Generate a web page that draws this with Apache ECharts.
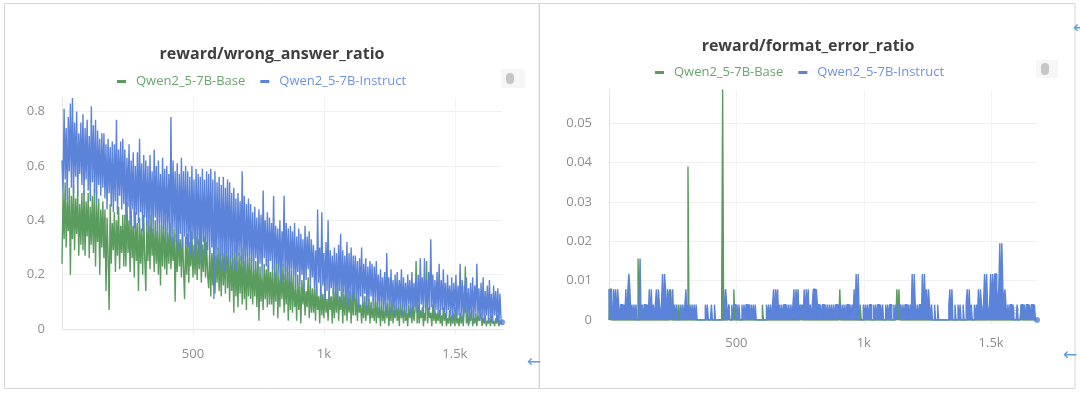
<!DOCTYPE html>
<html><head><meta charset="utf-8">
<script src="https://cdn.jsdelivr.net/npm/echarts@6/dist/echarts.min.js"></script>
<style>html,body{margin:0;padding:0;background:#fff}#c{width:1080px;height:395px}</style>
</head><body><div id="c"></div>
<script>
// ---------- data ----------
const seriesNames = ['Qwen2_5-7B-Base', 'Qwen2_5-7B-Instruct'];
const xTickLabels = {500: '500', 1000: '1k', 1500: '1.5k'};
const STEP_L = 4;    // training steps between samples (left chart)
const STEP_R = 4;    // training steps between samples (right chart)
const UNIT = 1 / 256; // right chart values are counts out of 256

// reward/wrong_answer_ratio (one row = 80 steps)
const wrongBase = [
0.24,0.5,0.33,0.54,0.3,0.47,0.36,0.52,0.2,0.49,0.33,0.53,0.29,0.48,0.35,0.51,0.27,0.46,0.31,0.5,
0.29,0.51,0.27,0.47,0.34,0.5,0.26,0.45,0.31,0.49,0.28,0.52,0.23,0.46,0.32,0.48,0.2,0.44,0.3,0.47,
0.26,0.44,0.14,0.41,0.27,0.07,0.46,0.24,0.39,0.29,0.43,0.21,0.4,0.27,0.45,0.22,0.38,0.28,0.42,0.23,
0.42,0.23,0.47,0.28,0.4,0.21,0.44,0.26,0.38,0.19,0.43,0.25,0.39,0.14,0.41,0.24,0.37,0.2,0.42,0.26,
0.14,0.4,0.25,0.38,0.22,0.42,0.27,0.37,0.21,0.4,0.24,0.36,0.2,0.39,0.16,0.38,0.23,0.41,0.22,0.37,
0.2,0.36,0.24,0.39,0.22,0.34,0.25,0.37,0.1,0.35,0.21,0.38,0.23,0.33,0.19,0.36,0.22,0.11,0.34,0.2,
0.35,0.17,0.32,0.23,0.36,0.19,0.31,0.2,0.34,0.18,0.33,0.22,0.35,0.17,0.31,0.21,0.34,0.19,0.32,0.2,
0.15,0.3,0.12,0.28,0.16,0.32,0.13,0.27,0.17,0.3,0.14,0.29,0.12,0.31,0.16,0.28,0.13,0.37,0.15,0.27,
0.1,0.29,0.14,0.26,0.06,0.31,0.12,0.25,0.08,0.28,0.13,0.27,0.09,0.3,0.11,0.25,0.07,0.28,0.12,0.26,
0.11,0.26,0.09,0.22,0.12,0.25,0.08,0.27,0.03,0.23,0.1,0.2,0.07,0.24,0.11,0.22,0.08,0.26,0.09,0.21,
0.09,0.23,0.05,0.21,0.1,0.26,0.04,0.2,0.08,0.22,0.11,0.24,0.06,0.2,0.09,0.23,0.03,0.21,0.07,0.22,
0.06,0.19,0.08,0.15,0.03,0.2,0.07,0.16,0.02,0.18,0.09,0.17,0.05,0.14,0.08,0.19,0.04,0.16,0.06,0.15,
0.06,0.15,0.03,0.17,0.07,0.12,0.02,0.16,0.05,0.13,0.04,0.15,0.06,0.11,0.03,0.14,0.07,0.12,0.02,0.15,
0.04,0.14,0.06,0.17,0.03,0.12,0.07,0.15,0.02,0.13,0.05,0.16,0.03,0.12,0.06,0.14,0.02,0.13,0.05,0.22,
0.05,0.11,0.03,0.12,0.06,0.09,0.02,0.1,0.04,0.12,0.03,0.09,0.05,0.11,0.02,0.1,0.04,0.08,0.03,0.11,
0.02,0.1,0.04,0.08,0.01,0.11,0.03,0.07,0.02,0.09,0.04,0.1,0.01,0.08,0.03,0.11,0.02,0.07,0.04,0.09,
0.03,0.08,0.01,0.11,0.04,0.07,0.02,0.1,0.03,0.06,0.01,0.09,0.04,0.08,0.02,0.1,0.03,0.07,0.25,0.02,
0.09,0.02,0.07,0.04,0.08,0.01,0.06,0.03,0.25,0.02,0.08,0.04,0.06,0.01,0.09,0.03,0.07,0.02,0.06,0.03,
0.07,0.02,0.05,0.01,0.08,0.03,0.06,0.01,0.04,0.02,0.07,0.01,0.05,0.02,0.06,0.01,0.08,0.02,0.04,0.01,
0.06,0.02,0.05,0.01,0.07,0.23,0.02,0.05,0.01,0.06,0.03,0.07,0.01,0.04,0.02,0.06,0.01,0.05,0.03,0.04,
0.06,0.01,0.04,0.02,0.05,0.01,0.03,0.02,0.04,0.01,0.05,0.02,0.03,0.01,0.04,0.02,0.05,0.01,0.03,0.02,
0.02];
const wrongInstruct = [
0.62,0.5,0.81,0.55,0.74,0.47,0.78,0.58,0.83,0.52,0.85,0.5,0.76,0.56,0.8,0.49,0.72,0.57,0.76,0.53,
0.79,0.49,0.74,0.55,0.77,0.51,0.71,0.47,0.82,0.54,0.75,0.5,0.77,0.46,0.73,0.53,0.7,0.49,0.72,0.52,
0.72,0.48,0.68,0.44,0.7,0.5,0.67,0.45,0.69,0.43,0.68,0.47,0.77,0.42,0.66,0.49,0.69,0.44,0.7,0.46,
0.66,0.4,0.63,0.45,0.68,0.38,0.62,0.44,0.65,0.37,0.6,0.42,0.65,0.39,0.7,0.43,0.61,0.36,0.64,0.41,
0.62,0.38,0.6,0.35,0.64,0.4,0.58,0.36,0.66,0.41,0.6,0.34,0.62,0.39,0.57,0.35,0.63,0.37,0.59,0.33,
0.6,0.36,0.57,0.33,0.78,0.31,0.62,0.37,0.58,0.32,0.61,0.29,0.57,0.35,0.63,0.3,0.58,0.34,0.6,0.31,
0.58,0.3,0.56,0.27,0.6,0.33,0.55,0.26,0.59,0.31,0.57,0.28,0.56,0.24,0.59,0.32,0.55,0.27,0.58,0.29,
0.57,0.28,0.59,0.3,0.55,0.11,0.58,0.25,0.54,0.29,0.56,0.22,0.53,0.27,0.56,0.21,0.52,0.28,0.55,0.24,
0.54,0.26,0.5,0.22,0.52,0.28,0.48,0.21,0.5,0.27,0.47,0.25,0.58,0.24,0.49,0.2,0.46,0.27,0.48,0.23,
0.46,0.25,0.43,0.21,0.45,0.26,0.41,0.22,0.44,0.24,0.42,0.2,0.51,0.26,0.4,0.23,0.43,0.21,0.41,0.25,
0.39,0.22,0.49,0.19,0.38,0.24,0.37,0.2,0.4,0.17,0.36,0.23,0.49,0.18,0.39,0.21,0.37,0.16,0.38,0.22,
0.36,0.19,0.39,0.15,0.34,0.21,0.37,0.16,0.35,0.2,0.33,0.14,0.38,0.18,0.34,0.22,0.36,0.15,0.33,0.19,
0.31,0.15,0.29,0.13,0.44,0.17,0.3,0.12,0.43,0.16,0.28,0.11,0.32,0.14,0.4,0.1,0.29,0.15,0.27,0.13,
0.3,0.12,0.28,0.1,0.31,0.14,0.35,0.09,0.29,0.13,0.27,0.11,0.32,0.08,0.28,0.12,0.3,0.1,0.27,0.13,
0.27,0.11,0.25,0.08,0.26,0.12,0.3,0.09,0.24,0.13,0.26,0.07,0.23,0.1,0.25,0.12,0.24,0.08,0.23,0.11,
0.25,0.09,0.2,0.06,0.22,0.1,0.19,0.07,0.21,0.05,0.28,0.1,0.19,0.06,0.22,0.09,0.18,0.05,0.2,0.08,
0.21,0.07,0.18,0.09,0.22,0.05,0.19,0.08,0.17,0.06,0.2,0.09,0.18,0.05,0.21,0.07,0.17,0.08,0.19,0.06,
0.2,0.06,0.26,0.09,0.19,0.05,0.26,0.08,0.18,0.06,0.21,0.07,0.33,0.08,0.2,0.05,0.18,0.07,0.21,0.06,
0.24,0.05,0.18,0.07,0.22,0.06,0.17,0.04,0.2,0.07,0.16,0.05,0.19,0.03,0.17,0.06,0.2,0.04,0.16,0.05,
0.24,0.05,0.18,0.03,0.16,0.06,0.19,0.04,0.15,0.02,0.17,0.05,0.19,0.03,0.16,0.06,0.24,0.04,0.15,0.03,
0.17,0.04,0.19,0.02,0.14,0.05,0.16,0.03,0.18,0.04,0.13,0.02,0.16,0.05,0.14,0.03,0.15,0.02,0.13,0.04,
0.025];

// reward/format_error_ratio (counts out of 256, one row = 80 steps)
const formatBase = [
0,2,2,0,0,0,0,0,0,0,0,0,0,0,0,0,0,0,0,0,
0,0,0,0,0,0,0,0,0,4,0,0,0,0,0,0,0,0,0,0,
0,0,0,0,0,0,0,0,0,0,0,0,0,0,0,0,0,0,0,0,
0,2,0,0,0,0,0,0,0,1,0,0,0,0,0,0,0,0,10,0,
0,0,0,0,0,0,0,0,0,0,0,0,0,0,0,0,0,0,0,0,
0,0,0,0,0,0,0,0,0,0,0,0,15,0,0,0,0,0,1,0,
0,0,0,2,0,0,0,0,0,0,0,0,0,0,0,0,0,0,1,0,
0,0,0,0,0,0,0,0,0,0,0,1,0,0,0,0,0,0,0,0,
0,0,0,0,0,0,0,0,0,0,0,0,0,0,0,0,0,0,0,0,
0,0,0,0,0,0,0,0,0,1,0,0,0,0,0,0,0,0,0,0,
0,0,0,0,0,0,0,0,0,0,0,0,0,0,0,0,0,0,0,0,
0,0,0,0,0,0,0,2,0,0,0,0,0,0,0,0,0,0,0,0,
0,0,0,0,0,0,0,1,0,0,0,0,0,0,0,0,0,0,0,0,
0,0,0,0,0,0,0,0,0,0,0,0,0,0,0,0,0,0,0,0,
0,0,0,2,0,2,0,0,0,0,0,0,0,0,0,0,0,0,0,0,
0,0,0,0,0,0,0,0,0,0,0,0,0,0,0,0,0,0,0,0,
0,0,0,0,0,0,0,0,0,0,0,0,0,0,0,0,0,0,0,0,
0,0,0,0,0,0,0,0,0,0,0,0,0,0,0,0,0,0,0,0,
0,0,0,0,0,0,0,0,0,0,0,0,0,0,0,0,0,0,0,0,
0,0,0,0,0,0,0,0,0,0,0,0,0,0,0,0,0,0,0,0,
0,0,0,0,0,1,0,0,0,0,0,0,1,0,0,0,0,0,0,0,
0];
const formatInstruct = [
2,0,2,1,0,2,1,2,0,2,1,0,1,1,0,1,0,2,0,2,
3,2,0,1,0,1,0,1,0,0,1,4,0,1,0,1,1,0,1,0,
2,0,2,0,1,0,1,2,0,2,1,0,1,3,0,3,2,0,2,1,
2,0,1,2,0,1,0,1,0,0,0,1,0,1,0,1,2,0,1,0,
1,0,1,0,1,0,1,0,0,0,0,0,0,0,0,1,0,1,0,0,
0,1,0,0,1,0,0,0,0,0,0,0,0,2,0,2,1,0,1,0,
0,1,0,1,1,0,1,0,1,0,0,1,0,1,0,1,1,0,1,0,
1,0,1,0,1,0,0,0,0,0,0,0,0,0,0,1,0,1,0,1,
0,1,2,0,2,1,2,0,1,0,1,0,1,1,0,1,0,1,0,1,
0,1,2,0,2,1,2,0,1,0,1,0,2,0,2,1,2,0,1,0,
1,2,2,0,2,1,1,0,1,0,1,1,0,1,0,1,0,1,0,1,
0,1,0,1,1,0,1,0,1,0,1,0,1,0,1,1,0,1,0,1,
0,2,0,3,0,3,0,0,0,0,1,0,1,0,1,0,1,1,0,0,
1,0,1,0,1,1,0,1,0,1,0,0,1,0,1,0,1,1,0,0,
1,0,1,0,1,1,0,1,0,1,0,1,1,0,1,0,1,0,3,0,
3,1,0,1,0,1,1,0,3,0,3,1,2,0,2,1,0,1,0,0,
1,0,0,1,0,0,0,0,0,0,0,0,0,0,1,2,0,2,0,0,
1,0,0,1,0,1,0,0,1,0,0,1,2,0,2,0,1,0,0,1,
0,1,0,2,0,2,1,0,1,3,1,3,1,0,1,3,1,3,1,3,
3,2,1,2,5,1,5,2,1,2,1,0,1,0,1,1,0,1,0,0,
0,1,0,0,0,1,1,0,1,0,1,1,0,1,0,1,1,0,1,0,
0];

// ---------- chart ----------
const GREEN = '#5a9b5e', BLUE = '#5b83da';
const GREEN_TXT = '#6aa66d', BLUE_TXT = '#6f92e2';
const FONT = 'Open Sans';
const MAX_STEP = 1680;

const toPts = (arr, step, k) => arr.map((v, i) => [i * step, v * k]);
const lBase = toPts(wrongBase, STEP_L, 1), lInst = toPts(wrongInstruct, STEP_L, 1);
const rBase = toPts(formatBase, STEP_R, UNIT), rInst = toPts(formatInstruct, STEP_R, UNIT);

function xAx(gi, margin) {
  return {
    type: 'value', gridIndex: gi, min: 0, max: MAX_STEP, interval: 500,
    axisLine: {show: true, lineStyle: {color: '#e4e4e4'}},
    axisTick: {show: true, length: 4, lineStyle: {color: '#e8e8e8'}},
    axisLabel: {margin, color: '#8e8e8e', fontSize: 13, fontFamily: FONT,
      showMinLabel: false, showMaxLabel: false,
      formatter: v => xTickLabels[v] || ''},
    splitLine: {show: true, showMinLine: false, showMaxLine: false, lineStyle: {color: '#f3f3f3'}}
  };
}
function yAx(gi, max, interval) {
  return {
    type: 'value', gridIndex: gi, min: 0, max, interval,
    axisLine: {show: true, lineStyle: {color: '#e4e4e4'}},
    axisTick: {show: false},
    axisLabel: {margin: 17, color: '#8e8e8e', fontSize: 13, fontFamily: FONT, showMaxLabel: false},
    splitLine: {show: true, showMaxLine: false, lineStyle: {color: '#efefef'}}
  };
}
function line(name, data, color, gi, width, step) {
  const s = {name, type: 'line', data, xAxisIndex: gi, yAxisIndex: gi, showSymbol: false,
    symbol: 'none', step: step || false, lineStyle: {color, width}, itemStyle: {color}, animation: false};
  if (step) s.areaStyle = {color, opacity: 1};
  return s;
}
function endDot(name, data, color, gi) {
  const last = data[data.length - 1];
  return {name, type: 'scatter', data: [last], xAxisIndex: gi, yAxisIndex: gi,
    symbolSize: 6, itemStyle: {color}, animation: false, z: 5};
}
function legend(left, top) {
  return {left, top, icon: 'rect', itemWidth: 9, itemHeight: 3, itemGap: 15,
    selectedMode: false,
    textStyle: {fontSize: 13, fontFamily: FONT, padding: [0, 0, 0, 5]},
    data: [{name: seriesNames[0], textStyle: {color: GREEN_TXT}},
           {name: seriesNames[1], textStyle: {color: BLUE_TXT}}]};
}
const titleStyle = {font: 'bold 16px "Open Sans"', fill: '#3f3f3f', align: 'center', verticalAlign: 'middle'};

const option = {
  animation: false,
  backgroundColor: '#fff',
  grid: [
    {left: 62, top: 98, width: 440, height: 231},
    {left: 609, top: 89.6, width: 428, height: 230.4}
  ],
  xAxis: [xAx(0, 19), xAx(1, 17)],
  yAxis: [yAx(0, 0.85, 0.2), yAx(1, 15 * UNIT, 0.01)],
  legend: [legend(112, 70), legend(650, 61)],
  series: [
    line(seriesNames[0], lBase, GREEN, 0, 1.4),
    line(seriesNames[1], lInst, BLUE, 0, 1.4),
    line(seriesNames[0], rBase, GREEN, 1, 1.4, 'middle'),
    line(seriesNames[1], rInst, BLUE, 1, 1.4, 'middle'),
    endDot(seriesNames[1], lInst, BLUE, 0),
    endDot(seriesNames[1], rInst, BLUE, 1)
  ],
  graphic: [
    {type: 'rect', shape: {x: 4.5, y: 3.5, width: 534.5, height: 385}, style: {fill: 'none', stroke: '#d6d6d6', lineWidth: 1}},
    {type: 'rect', shape: {x: 539.5, y: 3.5, width: 535.5, height: 385}, style: {fill: 'none', stroke: '#d6d6d6', lineWidth: 1}},
    {type: 'text', x: 272, y: 54, style: Object.assign({text: 'reward/wrong_answer_ratio'}, titleStyle)},
    {type: 'text', x: 808, y: 46, style: Object.assign({text: 'reward/format_error_ratio'}, titleStyle)},
    {type: 'rect', shape: {x: 501, y: 69, width: 24, height: 19}, style: {fill: '#f6f6f6'}},
    {type: 'rect', shape: {x: 506, y: 73, width: 8, height: 11, r: 4}, style: {fill: '#c6c6c6'}},
    {type: 'rect', shape: {x: 1036, y: 60, width: 22, height: 18}, style: {fill: '#f6f6f6'}},
    {type: 'rect', shape: {x: 1041, y: 63, width: 8, height: 12, r: 4}, style: {fill: '#c6c6c6'}},
    {type: 'text', x: 534, y: 363, style: {text: '←', font: '17px "DejaVu Sans"', fill: '#5c9ee0', align: 'center', verticalAlign: 'middle'}},
    {type: 'text', x: 1070, y: 356, style: {text: '←', font: '17px "DejaVu Sans"', fill: '#5c9ee0', align: 'center', verticalAlign: 'middle'}},
    {type: 'text', x: 1080, y: 29, style: {text: '←', font: '17px "DejaVu Sans"', fill: '#5c9ee0', align: 'center', verticalAlign: 'middle'}},
    {type: 'text', x: 1016, y: 310, z: -1, style: {text: 'e', font: '13px "Open Sans"', fill: '#b5b5b5', align: 'center', verticalAlign: 'middle'}}
  ]
};
const chart = echarts.init(document.getElementById('c'), null, {renderer: 'canvas'});
chart.setOption(option);
</script></body></html>
